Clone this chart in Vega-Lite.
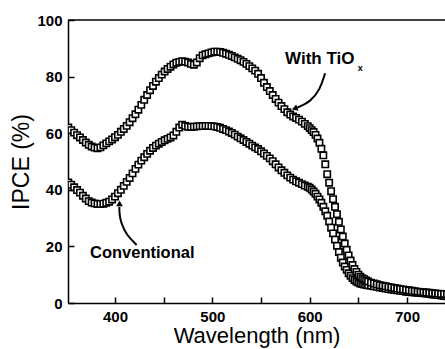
{
  "$schema": "https://vega.github.io/schema/vega-lite/v6.json",
  "width": 377,
  "height": 283,
  "autosize": {"type": "none"},
  "padding": {"left": 68, "top": 20, "right": 0, "bottom": 46},
  "background": "white",
  "config": {"view": {"stroke": null}},
  "datasets": {
    "curves": [
      {"w":352,"a":62.0,"b":42.6},{"w":355,"a":61.1,"b":41.8},{"w":358,"a":60.2,"b":40.9},{"w":361,"a":59.3,"b":39.9},
      {"w":364,"a":58.5,"b":39.0},{"w":367,"a":57.6,"b":37.9},{"w":370,"a":56.7,"b":36.9},{"w":373,"a":55.9,"b":36.0},
      {"w":376,"a":55.3,"b":35.5},{"w":379,"a":54.9,"b":35.2},{"w":382,"a":54.7,"b":35.0},{"w":385,"a":55.0,"b":35.0},
      {"w":388,"a":55.7,"b":35.1},{"w":391,"a":56.4,"b":35.4},{"w":394,"a":57.1,"b":35.8},{"w":397,"a":57.8,"b":36.6},
      {"w":400,"a":58.6,"b":37.6},{"w":403,"a":59.4,"b":38.8},{"w":406,"a":60.5,"b":40.0},{"w":409,"a":61.5,"b":41.4},
      {"w":412,"a":62.6,"b":42.8},{"w":415,"a":63.9,"b":44.2},{"w":418,"a":65.3,"b":45.8},{"w":421,"a":66.7,"b":47.4},
      {"w":424,"a":68.3,"b":48.9},{"w":427,"a":70.0,"b":50.3},{"w":430,"a":71.8,"b":51.5},{"w":433,"a":73.5,"b":52.7},
      {"w":436,"a":75.2,"b":53.8},{"w":439,"a":76.7,"b":54.8},{"w":442,"a":78.2,"b":55.6},{"w":445,"a":79.5,"b":56.3},
      {"w":448,"a":80.7,"b":56.9},{"w":451,"a":81.8,"b":57.5},{"w":454,"a":82.7,"b":58.0},{"w":457,"a":83.5,"b":58.5},
      {"w":460,"a":84.3,"b":59.2},{"w":463,"a":84.9,"b":60.5},{"w":466,"a":85.2,"b":62.0},{"w":469,"a":85.4,"b":63.0},
      {"w":472,"a":85.3,"b":62.6},{"w":475,"a":85.0,"b":62.3},{"w":478,"a":84.5,"b":62.2},{"w":481,"a":84.2,"b":62.3},
      {"w":484,"a":85.0,"b":62.4},{"w":487,"a":86.5,"b":62.5},{"w":490,"a":87.5,"b":62.5},{"w":493,"a":87.9,"b":62.6},
      {"w":496,"a":88.2,"b":62.6},{"w":499,"a":88.5,"b":62.5},{"w":502,"a":88.8,"b":62.4},{"w":505,"a":88.8,"b":62.2},
      {"w":508,"a":88.7,"b":61.9},{"w":511,"a":88.4,"b":61.5},{"w":514,"a":88.1,"b":61.1},{"w":517,"a":87.7,"b":60.6},
      {"w":520,"a":87.3,"b":60.1},{"w":523,"a":86.8,"b":59.5},{"w":526,"a":86.3,"b":58.8},{"w":529,"a":85.8,"b":58.2},
      {"w":532,"a":85.2,"b":57.6},{"w":535,"a":84.5,"b":56.9},{"w":538,"a":83.7,"b":56.3},{"w":541,"a":82.9,"b":55.6},
      {"w":544,"a":82.1,"b":55.0},{"w":547,"a":81.0,"b":54.4},{"w":550,"a":79.5,"b":53.6},{"w":553,"a":77.8,"b":52.8},
      {"w":556,"a":76.3,"b":52.0},{"w":559,"a":74.9,"b":51.1},{"w":562,"a":73.5,"b":50.1},{"w":565,"a":72.1,"b":49.0},
      {"w":568,"a":70.8,"b":47.9},{"w":571,"a":69.6,"b":46.9},{"w":574,"a":68.5,"b":46.0},{"w":577,"a":67.4,"b":45.1},
      {"w":580,"a":66.6,"b":44.3},{"w":583,"a":65.9,"b":43.6},{"w":586,"a":65.4,"b":43.0},{"w":589,"a":64.8,"b":42.5},
      {"w":592,"a":64.1,"b":42.0},{"w":595,"a":63.3,"b":41.5},{"w":598,"a":62.5,"b":41.1},
      {"w":600,"a":61.8,"b":40.7},{"w":602,"a":61.1,"b":40.1},{"w":604,"a":60.4,"b":39.4},{"w":606,"a":59.4,"b":38.6},
      {"w":608,"a":58.1,"b":37.6},{"w":610,"a":56.6,"b":36.6},{"w":612,"a":54.5,"b":35.4},{"w":614,"a":52.2,"b":34.0},
      {"w":616,"a":49.0,"b":32.4},{"w":618,"a":45.5,"b":30.8},{"w":620,"a":42.5,"b":28.8},{"w":622,"a":39.5,"b":26.6},
      {"w":624,"a":36.7,"b":24.6},{"w":626,"a":34.0,"b":22.4},{"w":628,"a":31.4,"b":20.2},{"w":630,"a":28.7,"b":18.0},
      {"w":632,"a":26.0,"b":16.0},{"w":634,"a":23.5,"b":14.3},{"w":636,"a":21.0,"b":12.9},{"w":638,"a":18.8,"b":11.7},
      {"w":640,"a":16.8,"b":10.5},{"w":642,"a":15.0,"b":9.6},{"w":644,"a":13.4,"b":8.8},{"w":646,"a":12.0,"b":8.1},
      {"w":648,"a":11.0,"b":7.6},{"w":650,"a":10.0,"b":7.2},{"w":652,"a":9.3,"b":6.9},{"w":654,"a":8.8,"b":6.7},
      {"w":656,"a":8.4,"b":6.5},{"w":658,"a":8.0,"b":6.4},{"w":660,"a":7.6,"b":6.3},
      {"w":663,"a":7.2,"b":6.1},{"w":666,"a":6.9,"b":5.9},{"w":669,"a":6.6,"b":5.7},{"w":672,"a":6.3,"b":5.5},
      {"w":675,"a":6.1,"b":5.3},{"w":678,"a":5.9,"b":5.1},{"w":681,"a":5.7,"b":4.9},{"w":684,"a":5.5,"b":4.8},
      {"w":687,"a":5.3,"b":4.6},{"w":690,"a":5.1,"b":4.5},{"w":693,"a":4.9,"b":4.3},{"w":696,"a":4.8,"b":4.2},
      {"w":699,"a":4.6,"b":4.0},{"w":702,"a":4.5,"b":3.9},{"w":705,"a":4.3,"b":3.8},{"w":708,"a":4.2,"b":3.7},
      {"w":711,"a":4.0,"b":3.6},{"w":714,"a":3.9,"b":3.5},{"w":717,"a":3.8,"b":3.4},{"w":720,"a":3.7,"b":3.3},
      {"w":723,"a":3.6,"b":3.2},{"w":726,"a":3.5,"b":3.0},{"w":729,"a":3.4,"b":2.9},{"w":732,"a":3.3,"b":2.8},
      {"w":735,"a":3.2,"b":2.6},{"w":738,"a":3.2,"b":2.5},{"w":741,"a":3.1,"b":2.4},{"w":744,"a":3.0,"b":2.3}
    ],
    "arrows": [
      {"g":"t","i":0,"w":615.8,"v":81.2},{"g":"t","i":1,"w":610.6,"v":75.3},{"g":"t","i":2,"w":600.3,"v":71.1},
      {"g":"t","i":3,"w":590.0,"v":69.4},{"g":"t","i":4,"w":584.0,"v":68.6},
      {"g":"c","i":0,"w":422.2,"v":20.5},{"g":"c","i":1,"w":411.9,"v":24.0},{"g":"c","i":2,"w":406.2,"v":28.2},
      {"g":"c","i":3,"w":404.4,"v":31.7},{"g":"c","i":4,"w":404.5,"v":34.0}
    ],
    "one": [{}]
  },
  "layer": [
    {
      "data": {"name": "curves"},
      "transform": [{"fold": ["b", "a"], "as": ["series", "ipce"]}],
      "mark": {"type": "point", "shape": "square", "filled": true, "fill": "white", "stroke": "black", "strokeWidth": 1.6, "size": 40, "opacity": 1, "clip": true},
      "encoding": {
        "x": {
          "field": "w", "type": "quantitative",
          "scale": {"domain": [351.7, 739], "nice": false, "zero": false},
          "axis": {
            "values": [400, 450, 500, 550, 600, 650, 700],
            "labelExpr": "datum.value % 100 === 0 ? datum.value : ''",
            "grid": false,
            "domainColor": "black", "domainWidth": 1.5,
            "ticks": true, "tickColor": "black", "tickWidth": 1.5, "tickSize": -6,
            "encode": {"ticks": {"update": {"y2": {"signal": "datum.value % 100 === 0 ? -6 : -3"}}}},
            "labelFont": "Liberation Sans", "labelFontWeight": "bold", "labelFontSize": 15, "labelColor": "black",
            "labelPadding": 12, "labelFlush": false, "labelOverlap": false,
            "title": "Wavelength (nm)",
            "titleFont": "Liberation Sans", "titleFontSize": 22, "titleFontWeight": "normal", "titleColor": "black",
            "titlePadding": 1
          }
        },
        "y": {
          "field": "ipce", "type": "quantitative",
          "scale": {"domain": [0, 100], "nice": false},
          "axis": {
            "values": [0, 10, 20, 30, 40, 50, 60, 70, 80, 90, 100],
            "labelExpr": "datum.value % 20 === 0 ? datum.value : ''",
            "grid": false,
            "domainColor": "black", "domainWidth": 1.5,
            "ticks": true, "tickColor": "black", "tickWidth": 1.5, "tickSize": -6,
            "encode": {"ticks": {"update": {"x2": {"signal": "datum.value % 20 === 0 ? 6 : 3"}}}},
            "labelFont": "Liberation Sans", "labelFontWeight": "bold", "labelFontSize": 15, "labelColor": "black",
            "labelPadding": 12, "labelOverlap": false, "labelFlush": false,
            "title": "IPCE (%)",
            "titleFont": "Liberation Sans", "titleFontSize": 23, "titleFontWeight": "normal", "titleColor": "black",
            "titlePadding": 3
          }
        }
      }
    },
    {
      "data": {"name": "one"},
      "mark": {"type": "rule", "stroke": "black", "strokeWidth": 1.5},
      "encoding": {"y": {"datum": 100, "type": "quantitative"}}
    },
    {
      "data": {"name": "arrows"},
      "mark": {"type": "line", "interpolate": "basis", "stroke": "black", "strokeWidth": 2},
      "encoding": {
        "x": {"field": "w", "type": "quantitative"},
        "y": {"field": "v", "type": "quantitative"},
        "detail": {"field": "g"},
        "order": {"field": "i"}
      }
    },
    {
      "data": {"name": "one"},
      "mark": {"type": "point", "shape": "triangle-up", "filled": true, "color": "black", "opacity": 1, "size": 45, "angle": 250},
      "encoding": {"x": {"datum": 584.5, "type": "quantitative"}, "y": {"datum": 68.7, "type": "quantitative"}}
    },
    {
      "data": {"name": "one"},
      "mark": {"type": "point", "shape": "triangle-up", "filled": true, "color": "black", "opacity": 1, "size": 45, "angle": 0},
      "encoding": {"x": {"datum": 404.6, "type": "quantitative"}, "y": {"datum": 35.2, "type": "quantitative"}}
    },
    {
      "data": {"name": "one"},
      "mark": {"type": "text", "text": "With TiO", "align": "left", "baseline": "middle", "font": "Liberation Sans", "fontWeight": "bold", "fontSize": 17, "color": "black"},
      "encoding": {"x": {"datum": 574.7, "type": "quantitative"}, "y": {"datum": 86.2, "type": "quantitative"}}
    },
    {
      "data": {"name": "one"},
      "mark": {"type": "text", "text": "x", "align": "center", "baseline": "middle", "font": "Liberation Sans", "fontWeight": "bold", "fontSize": 9, "color": "black"},
      "encoding": {"x": {"datum": 652.0, "type": "quantitative"}, "y": {"datum": 82.9, "type": "quantitative"}}
    },
    {
      "data": {"name": "one"},
      "mark": {"type": "text", "text": "Conventional", "align": "left", "baseline": "middle", "font": "Liberation Sans", "fontWeight": "bold", "fontSize": 16.5, "color": "black"},
      "encoding": {"x": {"datum": 374.3, "type": "quantitative"}, "y": {"datum": 17.7, "type": "quantitative"}}
    }
  ]
}
